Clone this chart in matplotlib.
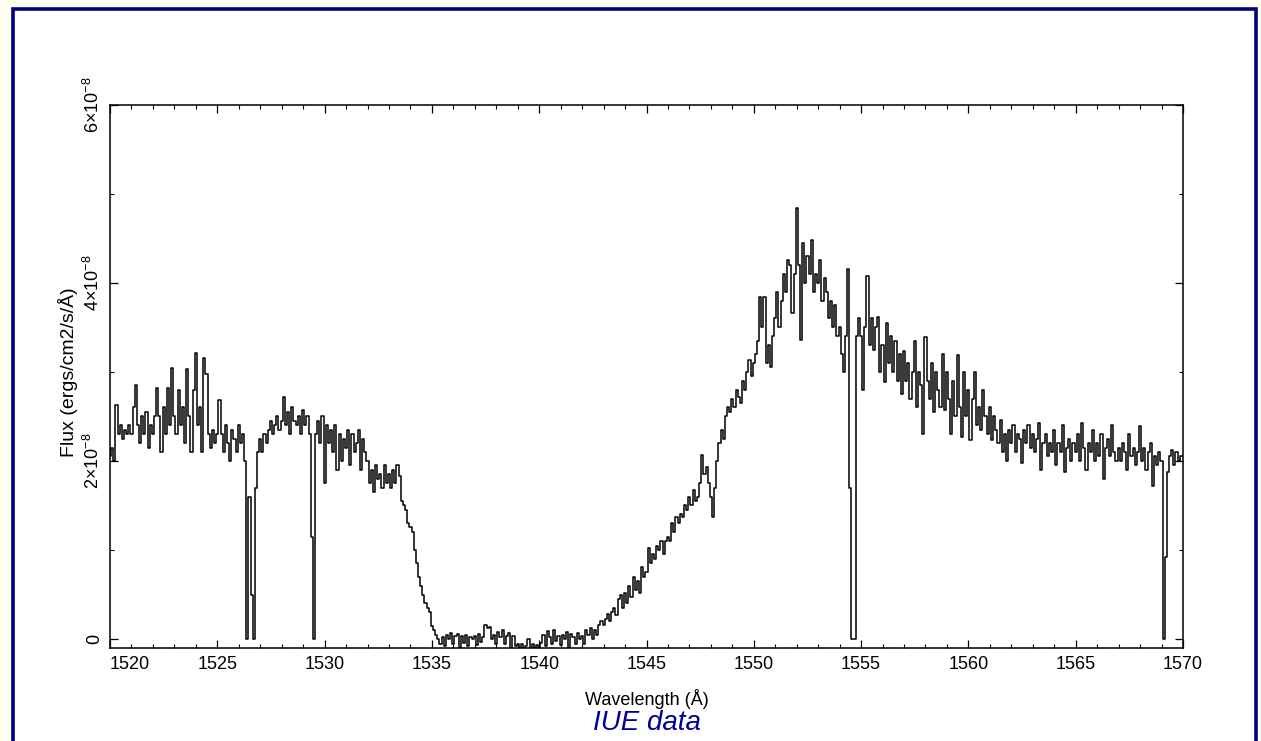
import numpy as np
import matplotlib
matplotlib.use("Agg")
import matplotlib.pyplot as plt
from matplotlib.patches import Rectangle
from matplotlib.ticker import MultipleLocator, FixedLocator

plt.rcParams['font.family'] = ['Liberation Sans', 'DejaVu Sans']
plt.rcParams['mathtext.fontset'] = 'custom'
plt.rcParams['mathtext.rm'] = 'Liberation Sans'
plt.rcParams['mathtext.it'] = 'Liberation Sans:italic'

# ---- data (flux in units of 1e-8 ergs/cm2/s/A), 0.1 A sampling from 1520.0 ----
wl_start = 1520.0
wl_step = 0.1
flux_e8 = [
    2.05, 2.15, 2.0, 2.63, 2.3, 2.4, 2.25, 2.35, 2.3, 2.4,      # 1520
    2.3, 2.6, 2.85, 2.4, 2.2, 2.5, 2.3, 2.55, 2.15, 2.4,        # 1521
    2.3, 2.5, 2.82, 2.5, 2.1, 2.6, 2.3, 2.82, 2.4, 3.04,        # 1522
    2.5, 2.3, 2.8, 2.4, 2.6, 2.2, 3.03, 2.5, 2.1, 2.8,          # 1523
    3.21, 2.4, 2.6, 2.1, 3.15, 2.98, 2.3, 2.15, 2.35, 2.2,      # 1524
    2.3, 2.68, 2.3, 2.1, 2.4, 2.2, 2.0, 2.35, 2.25, 2.1,        # 1525
    2.4, 2.2, 2.3, 2.0, 0.0, 1.6, 0.5, 0.0, 1.7, 2.1,           # 1526
    2.25, 2.1, 2.3, 2.2, 2.35, 2.45, 2.3, 2.4, 2.5, 2.35,       # 1527
    2.45, 2.72, 2.4, 2.55, 2.3, 2.6, 2.45, 2.4, 2.5, 2.3,       # 1528
    2.57, 2.4, 2.5, 2.3, 1.15, 0.0, 2.3, 2.45, 2.2, 2.5,        # 1529
    1.75, 2.4, 2.2, 2.35, 2.1, 2.4, 1.9, 2.3, 2.0, 2.25,        # 1530
    2.15, 2.35, 1.95, 2.3, 2.1, 2.2, 2.35, 1.9, 2.25, 2.1,      # 1531
    2.0, 1.75, 1.9, 1.65, 1.95, 1.8, 1.85, 1.7, 1.95, 1.75,     # 1532
    1.85, 1.7, 1.9, 1.75, 1.95, 1.83, 1.55, 1.5, 1.45, 1.3,     # 1533
    1.26, 1.2, 1.0, 0.85, 0.7, 0.6, 0.5, 0.4, 0.35, 0.3,        # 1534
    0.15, 0.1, 0.05, 0.0, -0.05, 0.02, -0.08, 0.05, 0.0, 0.07,  # 1535
    -0.05, 0.04, 0.06, -0.1, 0.03, -0.04, 0.05, -0.08, 0.02, 0.0,  # 1536
    0.04, -0.07, 0.06, -0.03, 0.02, 0.16, 0.12, 0.14, 0.0, 0.05,   # 1537
    -0.05, 0.08, 0.02, 0.1, -0.06, 0.04, 0.07, -0.1, 0.03, -0.08,  # 1538
    -0.05, -0.1, -0.06, -0.1, -0.08, 0.0, -0.1, -0.05, -0.1, -0.07,  # 1539
    -0.1, -0.04, 0.05, -0.08, 0.09, 0.02, -0.06, 0.1, -0.02, 0.04,   # 1540
    -0.07, 0.05, 0.0, 0.08, -0.1, 0.06, 0.02, -0.05, 0.07, 0.0,      # 1541
    0.04, -0.06, 0.1, 0.05, 0.12, 0.0, 0.1, 0.05, 0.16, 0.2,         # 1542
    0.16, 0.22, 0.28, 0.2, 0.3, 0.35, 0.27, 0.45, 0.5, 0.35,         # 1543
    0.52, 0.4, 0.6, 0.47, 0.7, 0.55, 0.65, 0.52, 0.81, 0.7,          # 1544
    0.75, 1.02, 0.85, 0.95, 0.9, 1.05, 1.0, 1.1, 0.95, 1.1,          # 1545
    1.15, 1.1, 1.3, 1.2, 1.37, 1.3, 1.4, 1.37, 1.5, 1.45,            # 1546
    1.6, 1.5, 1.67, 1.55, 1.6, 1.75, 2.07, 1.85, 1.93, 1.75,         # 1547
    1.6, 1.37, 1.7, 2.0, 2.2, 2.35, 2.25, 2.5, 2.6, 2.55,            # 1548
    2.7, 2.6, 2.8, 2.72, 2.65, 2.9, 2.8, 3.0, 3.13, 2.95,            # 1549
    3.1, 3.2, 3.35, 3.84, 3.5, 3.84, 3.1, 3.3, 3.05, 3.4,            # 1550
    3.6, 3.9, 3.5, 3.8, 4.1, 3.9, 4.26, 4.2, 3.66, 4.1,              # 1551
    4.84, 4.2, 3.36, 4.45, 4.0, 4.3, 4.1, 4.48, 3.9, 4.1,            # 1552
    4.0, 4.25, 3.8, 4.05, 3.9, 3.6, 3.8, 3.5, 3.75, 3.4,             # 1553
    3.5, 3.2, 3.0, 3.4, 4.15, 1.7, 0.0, 0.0, 3.4, 3.6,               # 1554
    3.4, 2.8, 3.5, 4.07, 3.3, 3.6, 3.25, 3.5, 3.62, 3.0,             # 1555
    3.3, 2.88, 3.55, 3.1, 3.4, 3.0, 3.35, 2.9, 3.2, 2.75,            # 1556
    3.23, 2.9, 3.1, 2.7, 3.0, 3.35, 2.6, 3.0, 2.85, 2.3,             # 1557
    3.39, 2.9, 2.7, 3.1, 2.55, 3.0, 2.8, 2.6, 3.2, 2.57,             # 1558
    3.0, 2.7, 2.3, 2.9, 2.5, 3.19, 2.6, 2.27, 3.0, 2.5,              # 1559
    2.8, 2.24, 2.7, 3.0, 2.4, 2.6, 2.35, 2.8, 2.5, 2.3,              # 1560
    2.6, 2.24, 2.5, 2.35, 2.2, 2.46, 2.1, 2.3, 2.0, 2.35,            # 1561
    2.2, 2.4, 2.1, 2.3, 2.25, 1.98, 2.35, 2.2, 2.4, 2.15,            # 1562
    2.3, 2.1, 2.25, 2.43, 1.9, 2.2, 2.3, 2.05, 2.2, 2.1,             # 1563
    2.35, 1.95, 2.2, 2.1, 2.4, 1.87, 2.15, 2.25, 2.0, 2.2,           # 1564
    2.1, 2.3, 2.0, 2.43, 2.15, 1.9, 2.2, 2.1, 2.35, 2.0,             # 1565
    2.2, 2.05, 2.3, 1.8, 2.15, 2.25, 2.05, 2.4, 2.1, 2.0,            # 1566
    2.15, 2.0, 2.2, 2.1, 1.9, 2.3, 2.05, 2.15, 1.95, 2.1,            # 1567
    2.39, 2.0, 2.15, 1.9, 2.1, 2.2, 1.72, 2.05, 1.95, 2.1,           # 1568
    2.0, 0.0, 0.92, 1.87, 2.05, 2.12, 1.95, 2.1, 2.0, 2.05,          # 1569
    2.05,                                                            # 1570
]
x_ticks = [1520, 1525, 1530, 1535, 1540, 1545, 1550, 1555, 1560, 1565, 1570]
y_ticks = [0, 2e-8, 4e-8, 6e-8]
y_tick_labels = ['0', r'$2{\times}10^{-8}$', r'$4{\times}10^{-8}$', r'$6{\times}10^{-8}$']
x_label = 'Wavelength (Å)'
y_label = 'Flux (ergs/cm2/s/Å)'
title = 'IUE data'

wavelength = wl_start + wl_step * np.arange(len(flux_e8))
flux = np.array(flux_e8) * 1e-8

W, H = 1261, 741
fig = plt.figure(figsize=(W / 100, H / 100), dpi=100)
fig.patch.set_facecolor('#FFFFF2')
# page frame
fig.patches.append(Rectangle((12.5 / W, -0.05), (1255.5 - 12.5) / W, 1.05 - 8.5 / H,
                             transform=fig.transFigure, facecolor='white',
                             edgecolor='#00007F', lw=2.6, zorder=-5))

ax = fig.add_axes([110 / W, 1 - 648 / H, (1183 - 110) / W, (648 - 104.5) / H])
ax.set_facecolor('white')
ax.step(wavelength, flux, where='mid', color='black', lw=1.1)

ax.set_xlim(1520, 1570)
ax.set_ylim(-0.1e-8, 6.0e-8)
ax.xaxis.set_major_locator(FixedLocator(x_ticks))
ax.xaxis.set_minor_locator(MultipleLocator(1))
ax.yaxis.set_major_locator(FixedLocator(y_ticks))
ax.yaxis.set_minor_locator(MultipleLocator(1e-8))
xlabels = ax.set_xticklabels([str(t) for t in x_ticks])
xlabels[0].set_horizontalalignment('left')
ax.set_yticklabels(y_tick_labels, rotation=90, va='center')

ax.tick_params(which='both', direction='in', top=True, right=True, colors='black')
ax.tick_params(which='major', length=6, width=0.9, labelsize=13, pad=6)
ax.tick_params(which='minor', length=3, width=0.8)
ax.tick_params(axis='y', which='major', pad=5)
for s in ax.spines.values():
    s.set_linewidth(1.1)

fig.text(647 / W, 1 - 699 / H, x_label, ha='center', va='center', fontsize=13)
fig.text(68 / W, 1 - 372 / H, y_label, ha='center', va='center', fontsize=14, rotation=90)
fig.text(647 / W, 1 - 723 / H, title, ha='center', va='center', fontsize=20,
         style='italic', color='#000099')

fig.savefig('out.png', dpi=100, facecolor=fig.get_facecolor())
